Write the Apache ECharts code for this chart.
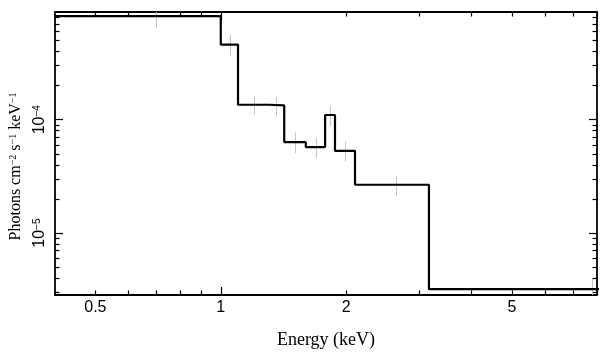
<!DOCTYPE html>
<html><head><meta charset="utf-8">
<script src="https://cdn.jsdelivr.net/npm/echarts@6/dist/echarts.min.js"></script>
<style>html,body{margin:0;padding:0;background:#fff}#c{width:609px;height:357px}</style>
</head><body><div id="c"></div>
<script>
// Bin edges (keV) of the folded spectrum histogram
const binEdges = [0.4, 1.0, 1.1, 1.3, 1.42, 1.6, 1.78, 1.88, 2.1, 3.16, 12.4];
// Model values per bin (photons cm^-2 s^-1 keV^-1)
const modelValues = [8.17e-4, 4.59e-4, 1.355e-4, 1.337e-4, 6.35e-5, 5.74e-5, 1.10e-4, 5.32e-5, 2.67e-5, 3.21e-6];
// Data error bar ranges per bin
const dataLow  = [6.44e-4, 3.62e-4, 1.107e-4, 1.07e-4, 5.08e-5, 4.59e-5, 8.73e-5, 4.28e-5, 2.13e-5, 2.5e-6];
const dataHigh = [9.9e-4, 5.62e-4, 1.606e-4, 1.58e-4, 7.72e-5, 6.89e-5, 1.31e-4, 6.39e-5, 3.21e-5, 3.95e-6];
// Axis ticks / labels
const xTickLabels = [0.5, 1, 2, 5];
const xMajorTicks = [1];
const xMinorTicks = [0.5, 0.6, 0.7, 0.8, 0.9, 2, 3, 4, 5, 6, 7, 8];
const yMajorTicks = [1e-5, 1e-4];
const yTickExponents = ['−5', '−4'];
const yMinorTicks = [3e-6, 4e-6, 5e-6, 6e-6, 7e-6, 8e-6, 9e-6,
                     2e-5, 3e-5, 4e-5, 5e-5, 6e-5, 7e-5, 8e-5, 9e-5,
                     2e-4, 3e-4, 4e-4, 5e-4, 6e-4, 7e-4, 8e-4];
const xMin = 0.4, xMax = 8, yMin = 2.85e-6, yMax = 8.9e-4;

const stepData = binEdges.map((e, i) => [e, modelValues[Math.min(i, modelValues.length - 1)]]);
const errData = modelValues.map((v, i) => [(binEdges[i] + binEdges[i + 1]) / 2, dataLow[i], dataHigh[i]]);

const lineStyle = {color: '#000', width: 1.8};
const tickStyle = {color: '#000', width: 1.2};

function xAxisDef(pos, ticks, len, withLabels, showLine) {
  const a = {
    type: 'log', logBase: 10, min: xMin, max: xMax, position: pos, offset: 0,
    axisLine: {show: showLine, lineStyle: lineStyle},
    axisTick: {show: true, inside: true, length: len, customValues: ticks, lineStyle: tickStyle},
    axisLabel: {show: false},
    splitLine: {show: false}, minorTick: {show: false}, minorSplitLine: {show: false}
  };
  if (withLabels) {
    a.axisLabel = {show: true, customValues: xTickLabels, formatter: v => String(+(+v).toPrecision(3)),
      fontFamily: 'Liberation Sans', fontSize: 16, color: '#000', margin: 5};
    a.name = 'Energy (keV)';
    a.nameLocation = 'middle';
    a.nameGap = 36;
    a.nameTextStyle = {fontFamily: 'Liberation Serif', fontSize: 18, color: '#000'};
  }
  return a;
}
function yAxisDef(pos, ticks, len, withLabels, showLine) {
  const a = {
    type: 'log', logBase: 10, min: yMin, max: yMax, position: pos, offset: 0,
    axisLine: {show: showLine, lineStyle: lineStyle},
    axisTick: {show: true, inside: true, length: len, customValues: ticks, lineStyle: tickStyle},
    axisLabel: {show: false},
    splitLine: {show: false}, minorTick: {show: false}, minorSplitLine: {show: false}
  };
  if (withLabels) {
    a.axisLabel = {show: true, customValues: yMajorTicks, rotate: 90, align: 'center', verticalAlign: 'bottom', margin: 7,
      formatter: v => {
        const i = yMajorTicks.findIndex(t => Math.abs(Math.log10(t) - Math.log10(v)) < 1e-6);
        return '{b|10}{s|' + yTickExponents[i] + '}';
      },
      rich: {
        b: {fontFamily: 'Liberation Sans', fontSize: 16, lineHeight: 16, color: '#000'},
        s: {fontFamily: 'Liberation Sans', fontSize: 10, lineHeight: 10, verticalAlign: 'top', color: '#000'}
      }
    };
    a.name = '{t|Photons cm}{s|−2}{t| s}{s|−1}{t| keV}{s|−1}';
    a.nameLocation = 'middle';
    a.nameRotate = 90;
    a.nameGap = 31;
    a.nameTextStyle = {
      padding: [0, 26, 0, 0],
      rich: {
        t: {fontFamily: 'Liberation Serif', fontSize: 16, lineHeight: 16, color: '#000'},
        s: {fontFamily: 'Liberation Serif', fontSize: 10, lineHeight: 10, verticalAlign: 'top', color: '#000'}
      }
    };
  }
  return a;
}

const chart = echarts.init(document.getElementById('c'), null, {renderer: 'canvas'});
chart.setOption({
  animation: false,
  backgroundColor: '#fff',
  grid: {left: 55, right: 12, top: 12, bottom: 62, containLabel: false, outerBoundsMode: 'none'},
  xAxis: [
    xAxisDef('bottom', xMajorTicks, 8, true, true),
    xAxisDef('bottom', xMinorTicks, 4.5, false, false),
    xAxisDef('top', xMajorTicks, 8, false, true),
    xAxisDef('top', xMinorTicks, 4.5, false, false)
  ],
  yAxis: [
    yAxisDef('left', yMajorTicks, 8, true, true),
    yAxisDef('left', yMinorTicks, 4.5, false, false),
    yAxisDef('right', yMajorTicks, 8, false, true),
    yAxisDef('right', yMinorTicks, 4.5, false, false)
  ],
  series: [
    {
      type: 'custom', xAxisIndex: 0, yAxisIndex: 0, z: 1,
      data: errData,
      encode: {x: 0, y: [1, 2]},
      renderItem: function (params, api) {
        const p1 = api.coord([api.value(0), api.value(1)]);
        const p2 = api.coord([api.value(0), api.value(2)]);
        const cs = params.coordSys;
        const clampY = y => Math.max(cs.y, Math.min(cs.y + cs.height, y));
        const x = Math.round(p1[0]) + 0.5;
        return {type: 'line', shape: {x1: x, y1: clampY(p1[1]), x2: x, y2: clampY(p2[1])},
          style: {stroke: '#c4c4c4', lineWidth: 1}};
      }
    },
    {
      type: 'line', xAxisIndex: 0, yAxisIndex: 0, z: 3,
      data: stepData, step: 'end', symbol: 'none', clip: true,
      lineStyle: {color: '#000', width: 2.2}
    }
  ]
});
</script></body></html>
